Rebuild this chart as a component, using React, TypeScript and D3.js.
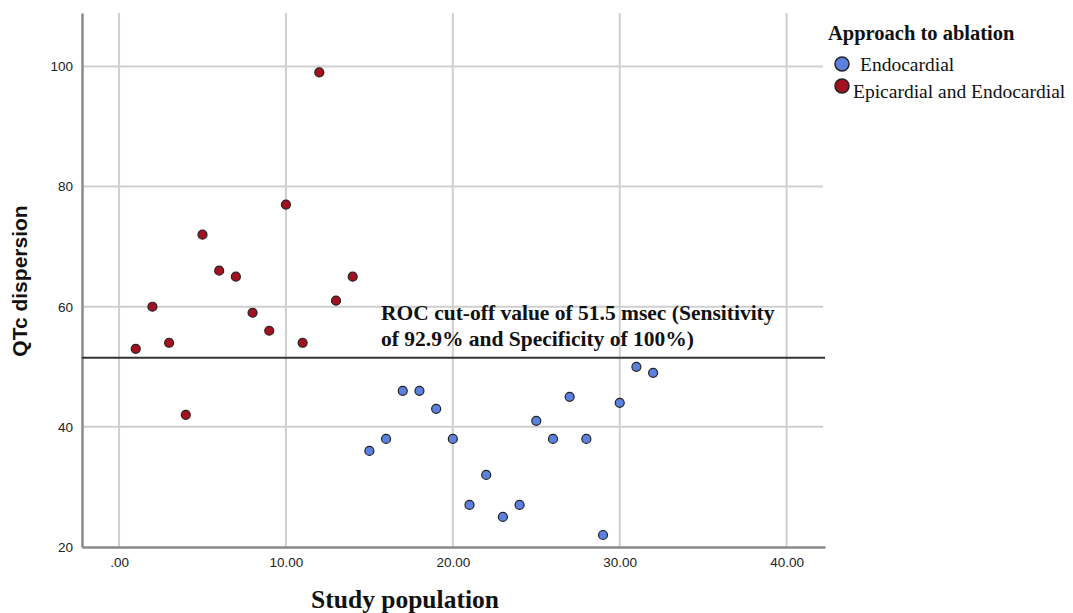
import React, { useEffect, useRef } from "react";
import * as d3 from "d3";

const epiX = [1, 2, 3, 4, 5, 6, 7, 8, 9, 10, 11, 12, 13, 14];
const epiY = [53, 60, 54, 42, 72, 66, 65, 59, 56, 77, 54, 99, 61, 65];
const endoX = [15, 16, 17, 18, 19, 20, 21, 22, 23, 24, 25, 26, 27, 28, 29, 30, 31, 32];
const endoY = [36, 38, 46, 46, 43, 38, 27, 32, 25, 27, 41, 38, 45, 38, 22, 44, 50, 49];
const xTicks = [0, 10, 20, 30, 40];
const yTicks = [20, 40, 60, 80, 100];
const cutoff = 51.5;
const legendItems = ["Endocardial", "Epicardial and Endocardial"];
const colors = ["#5b80e0", "#a3101f"];

export default function App() {
  const svgRef = useRef<SVGSVGElement>(null);

  useEffect(() => {
    const svg = d3.select(svgRef.current);
    svg.selectAll("*").remove();

    const x = d3.scaleLinear().domain([-2.22, 42.3]).range([82, 825]);
    const y = d3.scaleLinear().domain([20, 108.9]).range([547, 13]);
    const serif = "'Liberation Serif', 'Times New Roman', serif";
    const sans = "'Liberation Sans', Arial, sans-serif";

    // gridlines
    svg.append("g")
      .selectAll("line")
      .data(xTicks)
      .join("line")
      .attr("x1", (d) => x(d))
      .attr("x2", (d) => x(d))
      .attr("y1", 13)
      .attr("y2", 547)
      .attr("stroke", "#cfcfcf")
      .attr("stroke-width", 2);

    svg.append("g")
      .selectAll("line")
      .data(yTicks.filter((d) => d > 20))
      .join("line")
      .attr("x1", 82)
      .attr("x2", 823)
      .attr("y1", (d) => y(d))
      .attr("y2", (d) => y(d))
      .attr("stroke", "#cfcfcf")
      .attr("stroke-width", 2);

    // axes
    const xAxis = d3.axisBottom(x).tickValues(xTicks).tickSize(0).tickPadding(10)
      .tickFormat((d) => (d === 0 ? ".00" : d3.format(".2f")(d as number)));
    const gx = svg.append("g").attr("transform", `translate(0,${y(20)})`).call(xAxis);
    gx.select(".domain").attr("stroke", "#8a8a8a").attr("stroke-width", 2.5);
    gx.selectAll("text").attr("font-family", sans).attr("font-size", 13.5).attr("fill", "#222");

    const yAxis = d3.axisLeft(y).tickValues(yTicks).tickSize(0).tickPadding(9);
    const gy = svg.append("g").attr("transform", `translate(${x(-2.22)},0)`).call(yAxis);
    gy.select(".domain").attr("stroke", "#8a8a8a").attr("stroke-width", 2.5);
    gy.selectAll("text").attr("font-family", sans).attr("font-size", 13.5).attr("fill", "#222");

    // cutoff line
    svg.append("line")
      .attr("x1", 82)
      .attr("x2", 825)
      .attr("y1", y(cutoff))
      .attr("y2", y(cutoff))
      .attr("stroke", "#333")
      .attr("stroke-width", 2);

    const note = svg.append("text")
      .attr("font-family", serif)
      .attr("font-weight", "bold")
      .attr("font-size", 21.5)
      .attr("fill", "#111");
    note.append("tspan").attr("x", 381).attr("y", 320).text("ROC cut-off value of 51.5 msec (Sensitivity");
    note.append("tspan").attr("x", 381).attr("y", 346).text("of 92.9% and Specificity of 100%)");

    // points
    const pts = [
      ...endoX.map((d, i) => ({ x: d, y: endoY[i], c: colors[0] })),
      ...epiX.map((d, i) => ({ x: d, y: epiY[i], c: colors[1] })),
    ];
    svg.append("g")
      .selectAll("circle")
      .data(pts)
      .join("circle")
      .attr("cx", (d) => x(d.x))
      .attr("cy", (d) => y(d.y))
      .attr("r", 4.5)
      .attr("fill", (d) => d.c)
      .attr("stroke", "#222")
      .attr("stroke-width", 1.2);

    // axis titles
    svg.append("text")
      .attr("x", 405)
      .attr("y", 608)
      .attr("text-anchor", "middle")
      .attr("font-family", serif)
      .attr("font-weight", "bold")
      .attr("font-size", 25.5)
      .attr("fill", "#111")
      .text("Study population");

    svg.append("text")
      .attr("transform", `translate(27,${281}) rotate(-90)`)
      .attr("text-anchor", "middle")
      .attr("font-family", sans)
      .attr("font-weight", "bold")
      .attr("font-size", 21)
      .attr("fill", "#111")
      .text("QTc dispersion");

    // legend
    const lg = svg.append("g");
    lg.append("text")
      .attr("x", 828)
      .attr("y", 40)
      .attr("font-family", serif)
      .attr("font-weight", "bold")
      .attr("font-size", 20.5)
      .attr("fill", "#111")
      .text("Approach to ablation");
    const ly = [64, 86];
    const tx = [860, 853];
    const ty = [71, 98];
    legendItems.forEach((t, i) => {
      lg.append("circle")
        .attr("cx", 842)
        .attr("cy", ly[i])
        .attr("r", 7)
        .attr("fill", colors[i])
        .attr("stroke", "#222")
        .attr("stroke-width", 1.5);
      lg.append("text")
        .attr("x", tx[i])
        .attr("y", ty[i])
        .attr("font-family", serif)
        .attr("font-size", 19.5)
        .attr("fill", "#111")
        .text(t);
    });
  }, []);

  return (
    <div style={{ position: "absolute", left: 0, top: 0 }}>
      <svg ref={svgRef} width={1073} height={613}></svg>
    </div>
  );
}
